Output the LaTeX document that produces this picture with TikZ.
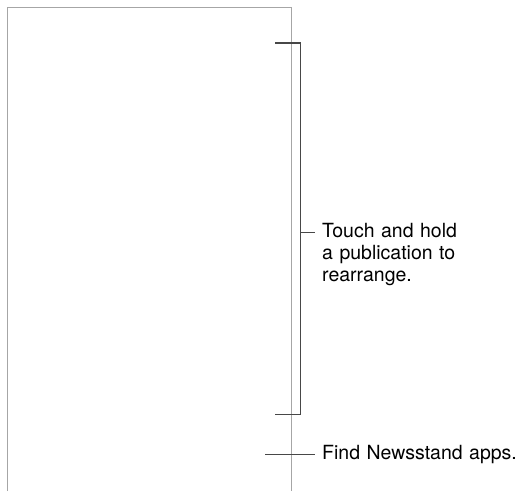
\documentclass[tikz,border=0pt]{standalone}
\usepackage{fontspec}
\setmainfont{TeX Gyre Heros}
\usetikzlibrary{positioning}

\begin{document}
\begin{tikzpicture}[
    x=1pt, y=-1pt,
    frame/.style={draw=black!35, line width=1pt},
    bracket/.style={draw=black!72, line width=1.4pt},
    leader/.style={draw=black!72, line width=1pt},
    note/.style={font=\fontsize{19.5}{22}\selectfont, align=left, text width=220pt, inner sep=0pt}
]
    \useasboundingbox (0,0) rectangle (524,491);

    % Screen outline
    \draw[frame] (7.5,491) |- (291,7.5) -- (291,491);

    % Bracket
    \coordinate (brtl) at (275,43);
    \coordinate (brtr) at (300.5,43);
    \coordinate (brbr) at (300.5,414.5);
    \coordinate (brbl) at (275,414.5);
    \draw[bracket] (brtl) -- (brtr) -- (brbr) -- (brbl);

    % Callouts
    \node[note, anchor=base west] (touch) at (322,237) {Touch and hold\\a publication to\\rearrange.};
    \node[note, anchor=base west] (find) at (322,459) {Find Newsstand apps.};

    % Leaders
    \coordinate (brmid) at (300.5,232);
    \coordinate (touchtip) at (315,232);
    \coordinate (findL) at (265,454);
    \coordinate (findR) at (315,454);
    \draw[leader] (brmid) -- (touchtip);
    \draw[leader] (findL) -- (findR);

\end{tikzpicture}
\end{document}
